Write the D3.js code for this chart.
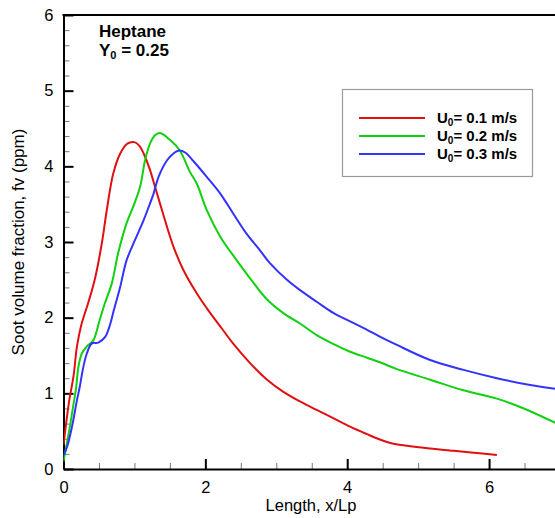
<!DOCTYPE html>
<html>
<head>
<meta charset="utf-8">
<script src="https://cdn.jsdelivr.net/npm/d3@7"></script>
<style>
body{margin:0;background:#fff;}
svg{display:block;font-family:"Liberation Sans",Arial,sans-serif;}
</style>
</head>
<body>
<svg id="chart" width="555" height="518"></svg>
<script>
// ---- data ----
const redX   = [0,0.03,0.08,0.14,0.19,0.25,0.35,0.44,0.54,0.61,0.70,0.80,0.90,1.00,1.07,1.13,1.22,1.29,1.36,1.43,1.55,1.69,1.88,2.07,2.23,2.39,2.63,2.87,3.10,3.34,3.57,3.81,4.04,4.28,4.46,4.62,4.98,5.50,5.83,6.11];
const redY   = [0.32,0.55,0.90,1.22,1.62,1.90,2.20,2.50,2.98,3.42,3.90,4.17,4.30,4.32,4.27,4.17,3.95,3.73,3.51,3.29,2.94,2.63,2.32,2.06,1.86,1.66,1.40,1.18,1.02,0.89,0.78,0.67,0.56,0.46,0.39,0.34,0.29,0.24,0.21,0.185];
const greenX = [0,0.03,0.09,0.14,0.18,0.21,0.26,0.33,0.42,0.51,0.58,0.68,0.77,0.89,0.98,1.08,1.15,1.22,1.29,1.36,1.50,1.64,1.78,1.88,2.02,2.21,2.44,2.63,2.87,3.10,3.34,3.57,3.81,4.04,4.28,4.46,4.70,5.17,5.64,6.11,6.49,7.0];
const greenY = [0.10,0.25,0.56,0.85,1.09,1.35,1.53,1.62,1.70,1.97,2.18,2.45,2.85,3.25,3.46,3.73,4.08,4.30,4.41,4.44,4.35,4.21,3.93,3.77,3.42,3.07,2.76,2.52,2.24,2.06,1.92,1.77,1.65,1.55,1.47,1.41,1.32,1.18,1.04,0.93,0.80,0.58];
const blueX  = [0,0.05,0.12,0.19,0.23,0.28,0.33,0.40,0.49,0.59,0.66,0.71,0.80,0.89,1.01,1.13,1.20,1.27,1.34,1.46,1.55,1.63,1.72,1.83,2.02,2.21,2.39,2.58,2.77,2.91,3.15,3.34,3.57,3.81,4.04,4.28,4.46,4.70,5.17,5.64,6.11,6.58,7.0];
const blueY  = [0.18,0.29,0.56,0.91,1.09,1.35,1.53,1.66,1.67,1.75,1.92,2.10,2.41,2.76,3.03,3.29,3.46,3.64,3.86,4.08,4.17,4.21,4.18,4.07,3.86,3.64,3.38,3.11,2.89,2.72,2.50,2.36,2.21,2.06,1.95,1.84,1.75,1.64,1.44,1.31,1.20,1.11,1.05];
const seriesNames = ["0.1 m/s","0.2 m/s","0.3 m/s"];
const seriesColors = ["#e01010","#10d010","#3333ff"];
const xTicks = [0,2,4,6];
const yTicks = [0,1,2,3,4,5,6];

const series = [
  {name:seriesNames[0], color:seriesColors[0], pts:redX.map((x,i)=>[x,redY[i]])},
  {name:seriesNames[1], color:seriesColors[1], pts:greenX.map((x,i)=>[x,greenY[i]])},
  {name:seriesNames[2], color:seriesColors[2], pts:blueX.map((x,i)=>[x,blueY[i]])}
];

const svg = d3.select("#chart");
const L = 63.5, R = 560, T = 15, B = 469;
const x = d3.scaleLinear().domain([0,7]).range([L,R]);
const y = d3.scaleLinear().domain([0,6]).range([B,T]);

svg.append("clipPath").attr("id","clip").append("rect")
  .attr("x",L).attr("y",T).attr("width",R-L).attr("height",B-T);

// minor ticks
const minorX = d3.range(0,7.01,0.5).filter(v=>!xTicks.includes(v));
const minorY = d3.range(0,6.01,0.2).map(v=>+v.toFixed(1)).filter(v=>Math.abs(v-Math.round(v))>1e-6);

const gxm = svg.append("g").attr("transform",`translate(0,${B})`)
  .call(d3.axisBottom(x).tickValues(minorX).tickSize(-6).tickFormat(""));
gxm.select(".domain").remove();
gxm.selectAll(".tick line").attr("stroke","#777").attr("stroke-width",1);

const gym = svg.append("g").attr("transform",`translate(${L},0)`)
  .call(d3.axisLeft(y).tickValues(minorY).tickSize(-6).tickFormat(""));
gym.select(".domain").remove();
gym.selectAll(".tick line").attr("stroke","#777").attr("stroke-width",1);

// major axes
const gx = svg.append("g").attr("transform",`translate(0,${B})`)
  .call(d3.axisBottom(x).tickValues(xTicks).tickSizeInner(-10).tickSizeOuter(0).tickPadding(12).tickFormat(d3.format("d")));
gx.select(".domain").attr("stroke","#000").attr("stroke-width",2);
gx.selectAll(".tick line").attr("stroke","#000").attr("stroke-width",2);
gx.selectAll(".tick text").attr("font-size",16.5).attr("fill","#000").attr("font-family","Liberation Sans, Arial, sans-serif");

const gy = svg.append("g").attr("transform",`translate(${L},0)`)
  .call(d3.axisLeft(y).tickValues(yTicks).tickSizeInner(-10).tickSizeOuter(0).tickPadding(10).tickFormat(d3.format("d")));
gy.select(".domain").attr("stroke","#000").attr("stroke-width",2);
gy.selectAll(".tick line").attr("stroke","#000").attr("stroke-width",2);
gy.selectAll(".tick text").attr("font-size",16.5).attr("fill","#000").attr("font-family","Liberation Sans, Arial, sans-serif");

// top border
svg.append("line").attr("x1",L-1).attr("x2",R).attr("y1",T).attr("y2",T)
  .attr("stroke","#000").attr("stroke-width",2);

// lines
const line = d3.line().x(d=>x(d[0])).y(d=>y(d[1])).curve(d3.curveCatmullRom.alpha(0.5));
svg.append("g").attr("clip-path","url(#clip)").selectAll("path").data(series).join("path")
  .attr("d",d=>line(d.pts)).attr("fill","none").attr("stroke",d=>d.color).attr("stroke-width",2);

// axis titles
svg.append("text").attr("x",311).attr("y",511).attr("text-anchor","middle")
  .attr("font-size",16.5).text("Length, x/Lp");
svg.append("text").attr("transform",`translate(24,${(T+B)/2}) rotate(-90)`).attr("text-anchor","middle")
  .attr("font-size",17).text("Soot volume fraction, fv (ppm)");

// annotation
svg.append("text").attr("x",99).attr("y",37).attr("font-size",17).attr("font-weight","bold").text("Heptane");
const ann = svg.append("text").attr("x",99).attr("y",56).attr("font-size",17).attr("font-weight","bold");
ann.append("tspan").text("Y");
ann.append("tspan").attr("font-size",11).attr("dy",3).text("0");
ann.append("tspan").attr("dy",-3).text(" = 0.25");

// legend
const lg = svg.append("g");
lg.append("rect").attr("x",342.5).attr("y",89.5).attr("width",190).attr("height",87)
  .attr("fill","#fff").attr("stroke","#999").attr("stroke-width",1.2);
series.forEach((s,i)=>{
  const yy = 118 + i*18;
  lg.append("line").attr("x1",359).attr("x2",425).attr("y1",yy).attr("y2",yy)
    .attr("stroke",s.color).attr("stroke-width",2);
  const t = lg.append("text").attr("x",437).attr("y",yy+5).attr("font-size",15).attr("font-weight","bold");
  t.append("tspan").text("U");
  t.append("tspan").attr("font-size",10).attr("dy",3).text("0");
  t.append("tspan").attr("dy",-3).text("= " + s.name);
});
</script>
</body>
</html>
